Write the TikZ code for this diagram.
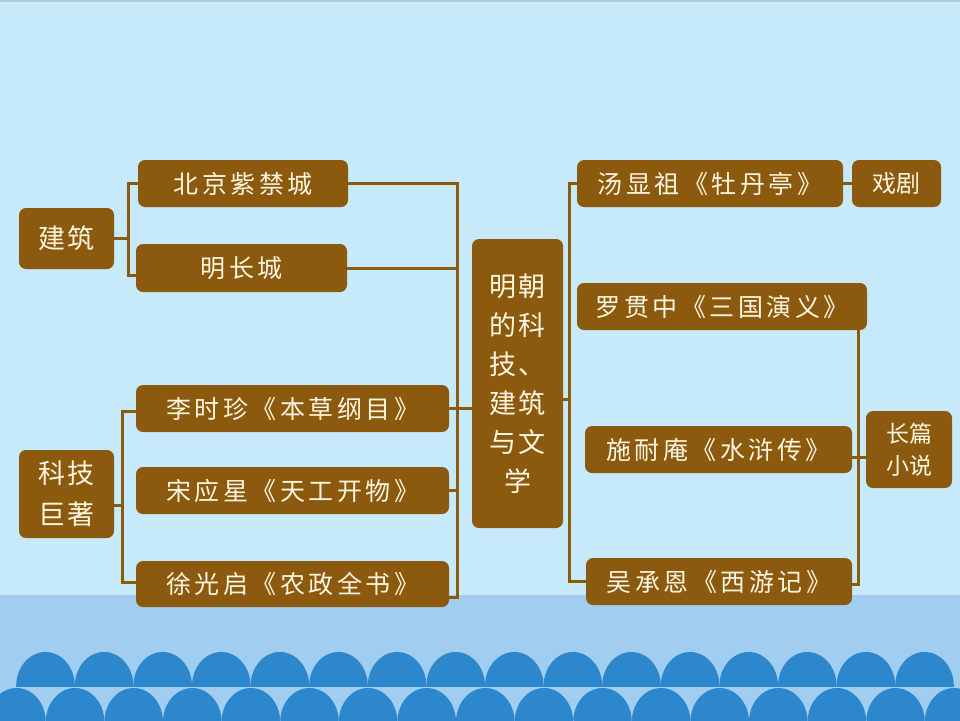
\documentclass[tikz,border=0pt]{standalone}
\usepackage{fontspec}
\newfontfamily\cjk{Noto Sans CJK SC}
\newfontfamily\cjks[LetterSpace=14]{Noto Sans CJK SC}
\newfontfamily\cjkm[LetterSpace=8]{Noto Sans CJK SC}
\usetikzlibrary{calc}
\definecolor{bgtop}{HTML}{C7EAFB}
\definecolor{bgbot}{HTML}{A0CDF0}
\definecolor{wave}{HTML}{2C87CC}
\definecolor{brn}{HTML}{8B5A0E}
\definecolor{txt}{HTML}{FFF6E2}
\begin{document}
\begin{tikzpicture}[x=1pt,y=-1pt,
  bx/.style={fill=brn, rounded corners=7pt, inner sep=0pt, text=txt, align=center},
  big/.style={font=\cjks\fontsize{25}{29}\selectfont},
  ln/.style={draw=brn, line width=3pt}]
\useasboundingbox (0,0) rectangle (960,720);
\fill[bgtop] (0,0) rectangle (960,595);
\fill[bgbot] (0,595) rectangle (960,720);
\fill[bgtop!70!gray] (0,0) rectangle (960,2);
% waves
\begin{scope}
\clip (0,0) rectangle (960,686);
\foreach \k in {0,...,15} {\fill[wave] ({45.5+58.6*\k},686) ellipse[x radius=29.3, y radius=34];}
\end{scope}
\begin{scope}
\clip (0,0) rectangle (960,720);
\foreach \k in {0,...,16} {\fill[wave] ({16.5+58.6*\k},722) ellipse[x radius=29.3, y radius=34];}
\end{scope}
% nodes
\node[bx, minimum width=95pt, minimum height=61pt, font=\cjkm\fontsize{27}{30}\selectfont] (jz) at (66.5,238.5) {建筑};
\node[bx, big, minimum width=210pt, minimum height=47pt] (bj) at (243,183.5) {北京紫禁城};
\node[bx, big, minimum width=211pt, minimum height=48pt] (cc) at (241.5,268) {明长城};
\node[bx, minimum width=95pt, minimum height=88pt, font=\cjkm\fontsize{27}{41}\selectfont] (kj) at (66.5,494) {科技\\巨著};
\node[bx, big, minimum width=313pt, minimum height=47pt] (ls) at (292.5,408.5) {李时珍《本草纲目》};
\node[bx, big, minimum width=313pt, minimum height=47pt] (sy) at (292.5,490.5) {宋应星《天工开物》};
\node[bx, big, minimum width=313pt, minimum height=46pt] (xg) at (292.5,584) {徐光启《农政全书》};
\node[bx, minimum width=91pt, minimum height=289pt, font=\cjkm\fontsize{27}{39}\selectfont] (mc) at (517.5,383.5) {明朝\\的科\\技、\\建筑\\与文\\学};
\node[bx, big, minimum width=266pt, minimum height=47pt] (tx) at (710,183.5) {汤显祖《牡丹亭》};
\node[bx, minimum width=89pt, minimum height=47pt, font=\cjk\fontsize{24}{27}\selectfont] (xj) at (896.5,183.5) {戏剧};
\node[bx, big, minimum width=290pt, minimum height=47pt] (lg) at (722,306.5) {罗贯中《三国演义》};
\node[bx, big, minimum width=267pt, minimum height=47pt] (sn) at (718.5,449.5) {施耐庵《水浒传》};
\node[bx, big, minimum width=266pt, minimum height=47pt] (wc) at (719,581.5) {吴承恩《西游记》};
\node[bx, minimum width=86pt, minimum height=77pt, font=\cjk\fontsize{23}{32}\selectfont] (cp) at (909,449.5) {长篇\\小说};
% connector coordinates
\coordinate (b1) at (128,238.5);
\coordinate (b2) at (122,505);
\coordinate (b3) at (457,400);
\coordinate (b4) at (569,400);
\coordinate (b5) at (858,450);
% connectors
\draw[ln] (jz.east) -- (jz.east -| b1);
\draw[ln] (bj.west) -| (b1) |- ($(cc.west)+(0,7)$);
\draw[ln] ($(kj.east)+(0,11)$) -- (b2);
\draw[ln] ($(ls.west)+(0,3)$) -| (b2) |- ($(xg.west)+(0,-2)$);
\draw[ln] (bj.east) -| (b3);
\draw[ln] (cc.east) -| (b3);
\draw[ln] (b3) |- ($(xg.east)+(0,13)$);
\draw[ln] (sy.east) -- (sy.east -| b3);
\draw[ln] (ls.east) -- (ls.east -| mc.west);
\draw[ln] (tx.west) -| (b4) |- (wc.west);
\draw[ln] ($(mc.east)+(0,16)$) -- (b4 |- {$(mc.east)+(0,16)$});
\draw[ln] (tx.east) -- (xj.west);
\draw[ln] (lg.south -| b5) |- ($(wc.east)+(0,3)$);
\draw[ln] ($(sn.east)+(0,8)$) -- ($(sn.east -| cp.west)+(0,8)$);
\end{tikzpicture}
\end{document}
